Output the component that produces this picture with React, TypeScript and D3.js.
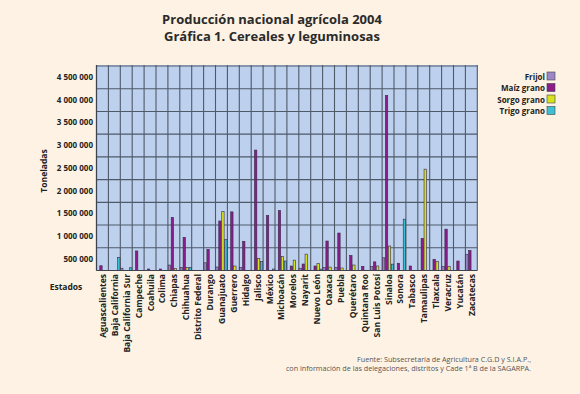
import React from "react";
import * as d3 from "d3";

const states = ["Aguascalientes","Baja California","Baja California Sur","Campeche","Coahuila","Colima","Chiapas","Chihuahua","Distrito Federal","Durango","Guanajuato","Guerrero","Hidalgo","Jalisco","México","Michoacán","Morelos","Nayarit","Nuevo León","Oaxaca","Puebla","Querétaro","Quintana Roo","San Luis Potosí","Sinaloa","Sonora","Tabasco","Tamaulipas","Tlaxcala","Veracruz","Yucatán","Zacatecas"];

const frijol = [0,0,50000,0,0,0,120000,70000,0,170000,77000,0,62000,0,0,0,0,50000,0,62000,70000,0,0,84000,280000,0,0,0,0,84000,0,350000];
const maiz = [105000,0,0,430000,33000,33000,1170000,730000,0,466000,1090000,1290000,642000,2650000,1210000,1320000,99000,143000,99000,649000,825000,330000,92000,190000,3850000,160000,99000,708000,246000,910000,209000,440000];
const sorgo = [0,0,0,0,0,0,48000,70000,0,0,1294000,99000,0,260000,0,304000,228000,360000,150000,75000,55000,121000,0,99000,539000,0,0,2230000,194000,84000,0,0];
const trigo = [0,282000,60000,0,0,0,0,70000,0,0,678000,0,0,194000,33000,209000,0,0,30000,0,0,0,0,0,140000,1130000,0,0,0,0,0,0];

const seriesNames = ["Frijol","Maíz grano","Sorgo grano","Trigo grano"];
const seriesColors = ["#9c86c8","#8c1c8c","#d6e21e","#3cc0d2"];
const yTicks = [500000,1000000,1500000,2000000,2500000,3000000,3500000,4000000,4500000];

const titleLines = ["Producción nacional agrícola 2004","Gráfica 1. Cereales y leguminosas"];
const footerLines = ["Fuente: Subsecretaría de Agricultura C.G.D y S.I.A.P.,","con información de las delegaciones, distritos y Cade 1ª B de la SAGARPA."];

const FONT = "'Open Sans', 'DejaVu Sans', sans-serif";

export default function App() {
  const W = 580, H = 394;
  const left = 96.5, right = 477.3, top = 65, bottom = 270.5;
  const seriesValues = [frijol, maiz, sorgo, trigo];

  const x = d3.scaleBand<string>().domain(states).range([left, right]).padding(0);
  const x1 = d3.scaleBand<string>().domain(seriesNames).range([0, x.bandwidth()]).padding(0);
  const y = d3.scaleLinear().domain([0, 4500000]).range([bottom, 66]);
  const fmt = (v: number) => d3.format(",")(v).replace(/,/g, " ");

  return (
    <svg width={W} height={H} style={{ position: "absolute", left: 0, top: 0, background: "#fdf2e4" }} fontFamily={FONT}>
      <rect x={0} y={0} width={W} height={H} fill="#fdf2e4" />
      {titleLines.map((t, i) => (
        <text key={t} x={272} y={23.5 + i * 17} textAnchor="middle" fontSize={13} fontWeight={700} fill="#2a2a2a">{t}</text>
      ))}
      <rect x={left} y={top} width={right - left} height={bottom - top} fill="#bdd0ee" />
      {yTicks.map(v => (
        <line key={v} x1={left} x2={right} y1={y(v)} y2={y(v)} stroke="#4f5a68" strokeWidth={1.1} />
      ))}
      {states.map(s => (
        <line key={s} x1={x(s)!} x2={x(s)!} y1={top} y2={bottom} stroke="#4f5a68" strokeWidth={1.1} />
      ))}
      <line x1={right} x2={right} y1={top} y2={bottom} stroke="#4f5a68" strokeWidth={1.1} />
      {states.map((s, i) => seriesValues.map((vals, k) => {
        const v = vals[i];
        if (!v) return null;
        return (
          <rect key={s + k} x={x(s)! + x1(seriesNames[k])! + 0.3} width={x1.bandwidth() - 0.6}
            y={y(v)} height={y(0) - y(v)} fill={seriesColors[k]} stroke="#3a2848" strokeWidth={0.6} />
        );
      }))}
      <line x1={left} x2={left} y1={top} y2={bottom} stroke="#3d4450" strokeWidth={1.2} />
      <line x1={left} x2={right} y1={bottom} y2={bottom} stroke="#3d4450" strokeWidth={1.2} />
      {yTicks.map(v => (
        <text key={"l" + v} x={93} y={y(v) + 10.5} textAnchor="end" dominantBaseline="central" fontSize={8} fontWeight={700} fill="#222">{fmt(v)}</text>
      ))}
      <text transform="translate(43,171) rotate(-90)" textAnchor="middle" dominantBaseline="central" fontSize={8.5} fontWeight={700} fill="#222">Toneladas</text>
      <text x={66} y={286} textAnchor="middle" dominantBaseline="central" fontSize={8.5} fontWeight={700} fill="#222">Estados</text>
      {states.map(s => (
        <text key={"x" + s} transform={`translate(${x(s)! + x.bandwidth() / 2},274) rotate(-90)`} textAnchor="end" dominantBaseline="central" fontSize={8.5} fontWeight={700} fill="#222">{s}</text>
      ))}
      {seriesNames.map((n, k) => (
        <g key={n}>
          <text x={545} y={76 + k * 11.5} textAnchor="end" dominantBaseline="central" fontSize={8} fontWeight={700} fill="#222">{n}</text>
          <rect x={547} y={72 + k * 11.5} width={8} height={8} fill={seriesColors[k]} stroke="#444" strokeWidth={0.6} />
        </g>
      ))}
      {footerLines.map((t, i) => (
        <text key={t} x={531} y={362 + i * 9} textAnchor="end" fontSize={7.2} fill="#555">{t}</text>
      ))}
    </svg>
  );
}
